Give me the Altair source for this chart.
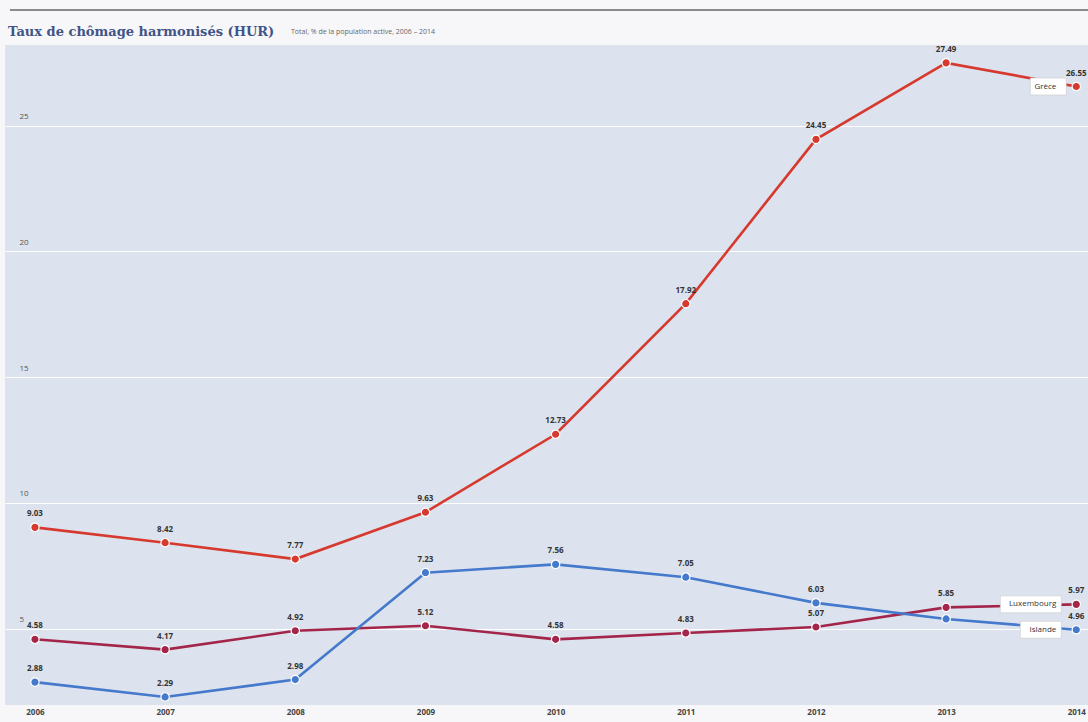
import altair as alt
import pandas as pd

years = [2006, 2007, 2008, 2009, 2010, 2011, 2012, 2013, 2014]
greece = [9.03, 8.42, 7.77, 9.63, 12.73, 17.92, 24.45, 27.49, 26.55]
luxembourg = [4.58, 4.17, 4.92, 5.12, 4.58, 4.83, 5.07, 5.85, 5.97]
iceland = [2.88, 2.29, 2.98, 7.23, 7.56, 7.05, 6.03, 5.39, 4.96]
series_names = ["Grèce", "Luxembourg", "Islande"]
series_colors = ["#d63a2f", "#a3264a", "#4479cc"]
y_ticks = [5, 10, 15, 20, 25]
title_text = "Taux de chômage harmonisés (HUR)"
subtitle_text = "Total, % de la population active, 2006 – 2014"

rows = []
for name, vals in zip(series_names, [greece, luxembourg, iceland]):
    for yr, v in zip(years, vals):
        rows.append({"year": yr, "value": v, "series": name,
                     "label": f"{v:.2f}"})
df = pd.DataFrame(rows)
# Iceland 2013 value label is hidden in the original
df["show"] = ~((df["series"] == "Islande") & (df["year"] == 2013))
last = df[df["year"] == years[-1]]

x = alt.X("year:Q", scale=alt.Scale(domain=[2005.77, 2014.09], nice=False, zero=False),
          axis=alt.Axis(values=years, format="d", title=None, grid=False, domain=False,
                        ticks=False, labelFontSize=8, labelColor="#444", labelPadding=3,
                        labelFont="Open Sans", labelFontWeight="bold"))
y = alt.Y("value:Q", scale=alt.Scale(domain=[1.97, 28.2], nice=False, zero=False),
          axis=alt.Axis(values=y_ticks, title=None, domain=False, ticks=False,
                        grid=True, gridColor="#ffffff", gridWidth=1.2,
                        labelAlign="left", labelPadding=-14, labelBaseline="bottom",
                        labelFontSize=8, labelColor="#555", labelFont="Open Sans",
                        labelOffset=-5))
color = alt.Color("series:N", scale=alt.Scale(domain=series_names, range=series_colors),
                  legend=None)

base = alt.Chart(df)
lines = base.mark_line(strokeWidth=2.6).encode(x=x, y=y, color=color, detail="series:N")
points = base.mark_point(filled=True, size=70, stroke="white", strokeWidth=1.2,
                         opacity=1).encode(x=x, y=y, color=color)
labels = base.transform_filter("datum.show").mark_text(
    dy=-13, fontSize=8, fontWeight="bold", color="#333", font="Open Sans"
).encode(x=x, y=y, text="label:N")

box_paths = [
    "M-4.6,-0.85 H-1.0 V0.85 H-4.6 Z",
    "M-7.6,-0.85 H-1.5 V0.85 H-7.6 Z",
    "M-5.6,-0.85 H-1.5 V0.85 H-5.6 Z",
]
boxes = alt.Chart(last).mark_point(filled=True, size=400, fill="white", stroke="#c8c8c8",
                                   strokeWidth=0.6, opacity=1).encode(
    x=x, y=y,
    shape=alt.Shape("series:N", scale=alt.Scale(domain=series_names, range=box_paths),
                    legend=None))
end_text = alt.Chart(last).mark_text(align="right", dx=-20, fontSize=8, color="#333",
                                     font="Open Sans").encode(x=x, y=y, text="series:N")

title = alt.Chart(pd.DataFrame({"t": [title_text]})).mark_text(
    align="left", baseline="alphabetic", font="DejaVu Serif", fontWeight="bold",
    fontSize=13, color="#3f5488"
).encode(x=alt.value(3), y=alt.value(-9), text="t:N")
subtitle = alt.Chart(pd.DataFrame({"t": [subtitle_text]})).mark_text(
    align="left", baseline="alphabetic", font="Open Sans", fontSize=7, color="#666"
).encode(x=alt.value(286), y=alt.value(-11), text="t:N")
topline = alt.Chart(pd.DataFrame({"a": [0]})).mark_rule(color="#8a8a8a", strokeWidth=2).encode(
    x=alt.value(5), x2=alt.value(1083), y=alt.value(-35))

chart = alt.layer(lines, boxes, end_text, points, labels, title, subtitle, topline).properties(
    width=1083, height=660,
    padding={"left": 5, "top": 45, "right": 0, "bottom": 17},
    autosize=alt.AutoSizeParams(type="none"),
    background="#f7f7f9",
).configure_view(fill="#dde3ee", stroke=None, clip=False)

chart.save("out.html", embed_options={"renderer": "svg", "actions": False})
